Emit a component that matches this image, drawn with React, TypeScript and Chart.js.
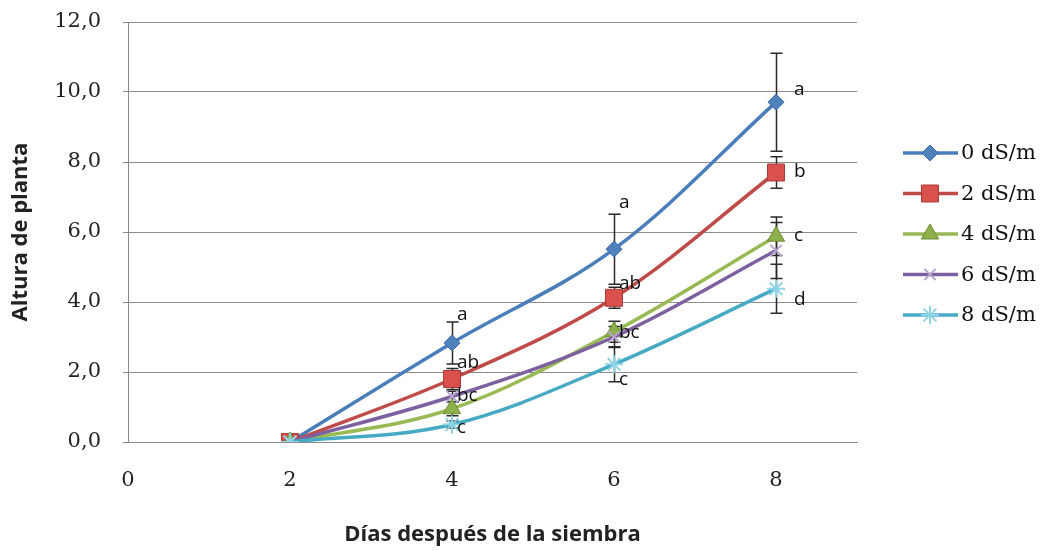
import React, { useEffect, useRef } from "react";
import { Chart, registerables } from "chart.js";

Chart.register(...registerables);

// ---- data ----
const days = [2, 4, 6, 8];
const seriesNames = ["0 dS/m", "2 dS/m", "4 dS/m", "6 dS/m", "8 dS/m"];
const s0 = [0, 2.83, 5.51, 9.71];
const s2 = [0, 1.8, 4.12, 7.7];
const s4 = [0, 0.95, 3.15, 5.88];
const s6 = [0, 1.3, 3.0, 5.47];
const s8 = [0, 0.5, 2.22, 4.38];
const e0 = [0, 0.6, 1.0, 1.4];
const e2 = [0, 0.3, 0.3, 0.45];
const e4 = [0, 0.2, 0.3, 0.55];
const e6 = [0, 0.15, 0.3, 0.8];
const e8 = [0, 0.1, 0.5, 0.7];
const xTicks = [0, 2, 4, 6, 8];
const yTicks = [0, 2, 4, 6, 8, 10, 12];
// significance letters (day, value, text)
const letterDay = [4, 4, 4, 4, 6, 6, 6, 6, 8, 8, 8, 8];
const letterVal = [3.63, 2.26, 1.34, 0.4, 6.83, 4.54, 3.14, 1.77, 10.06, 7.74, 5.89, 4.06];
const letterText = ["a", "ab", "bc", "c", "a", "ab", "bc", "c", "a", "b", "c", "d"];

const values = [s0, s2, s4, s6, s8];
const errors = [e0, e2, e4, e6, e8];

const styles = [
  { line: "#4A7EBB", style: "rectRot", radius: 8, bg: "#4F81BD", border: "#3A6AA8", bw: 1 },
  { line: "#BE4B48", style: "rect", radius: 12, bg: "#D9504C", border: "#A83A37", bw: 1 },
  { line: "#98B954", style: "triangle", radius: 10, bg: "#8DB04A", border: "#6E8C38", bw: 1 },
  { line: "#7D60A0", style: "crossRot", radius: 8, bg: "#B8A6D0", border: "#B8A6D0", bw: 2 },
  { line: "#46AAC5", style: "star", radius: 9, bg: "#8ED3E6", border: "#8ED3E6", bw: 2 },
];

const fmt = (v: number) => v.toFixed(1).replace(".", ",");

export default function App() {
  const ref = useRef<HTMLCanvasElement | null>(null);

  useEffect(() => {
    if (!ref.current) return;

    const errorBars = {
      id: "errorBars",
      beforeDatasetsDraw(chart: any) {
        const { ctx, scales } = chart;
        const xs = scales.x, ys = scales.y;
        ctx.save();
        ctx.strokeStyle = "#2a2a2a";
        ctx.lineWidth = 1.5;
        values.forEach((vals, i) => {
          vals.forEach((v, j) => {
            const e = errors[i][j];
            if (!e) return;
            const x = Math.round(xs.getPixelForValue(days[j])) + 0.5;
            const yt = ys.getPixelForValue(v + e);
            const yb = ys.getPixelForValue(v - e);
            ctx.beginPath();
            ctx.moveTo(x, yt);
            ctx.lineTo(x, yb);
            ctx.moveTo(x - 6, yt);
            ctx.lineTo(x + 6, yt);
            ctx.moveTo(x - 6, yb);
            ctx.lineTo(x + 6, yb);
            ctx.stroke();
          });
        });
        ctx.restore();
      },
    };

    const letters = {
      id: "letters",
      afterDatasetsDraw(chart: any) {
        const { ctx, scales } = chart;
        ctx.save();
        ctx.fillStyle = "#111";
        ctx.font = "19px 'Open Sans'";
        ctx.textAlign = "left";
        ctx.textBaseline = "middle";
        letterText.forEach((t, k) => {
          const x = scales.x.getPixelForValue(letterDay[k]) + (letterDay[k] === 8 ? 18 : 5);
          const y = scales.y.getPixelForValue(letterVal[k]);
          ctx.fillText(t, x, y);
        });
        ctx.restore();
      },
    };

    const legend = {
      id: "customLegend",
      afterDraw(chart: any) {
        const { ctx } = chart;
        ctx.save();
        seriesNames.forEach((name, i) => {
          const st = styles[i];
          const y = 153 + i * 40.5;
          ctx.strokeStyle = st.line;
          ctx.lineWidth = 3.5;
          ctx.beginPath();
          ctx.moveTo(903, y);
          ctx.lineTo(958, y);
          ctx.stroke();
          ctx.fillStyle = st.bg;
          ctx.strokeStyle = st.border;
          ctx.lineWidth = st.bw;
          drawMarker(ctx, st, 930, y);
          ctx.fillStyle = "#111";
          ctx.font = "21px 'DejaVu Serif'";
          ctx.textAlign = "left";
          ctx.textBaseline = "middle";
          ctx.fillText(name, 961, y + 1);
        });
        ctx.restore();
      },
    };

    const chart = new Chart(ref.current, {
      type: "line",
      data: {
        datasets: values.map((vals, i) => ({
          label: seriesNames[i],
          data: vals.map((v, j) => ({ x: days[j], y: v })),
          borderColor: styles[i].line,
          borderWidth: 3.5,
          tension: 0.35,
          pointStyle: styles[i].style as any,
          pointRadius: styles[i].radius,
          pointBackgroundColor: styles[i].bg,
          pointBorderColor: styles[i].border,
          pointBorderWidth: styles[i].bw,
          fill: false,
          order: 4 - i,
        })),
      },
      options: {
        animation: false,
        responsive: false,
        maintainAspectRatio: false,
        layout: { padding: { left: 0, top: 22, right: 187, bottom: 0 } },
        plugins: { legend: { display: false }, tooltip: { enabled: false } },
        scales: {
          x: {
            type: "linear",
            min: 0,
            max: 9,
            afterBuildTicks: (s: any) => {
              s.ticks = xTicks.map((v) => ({ value: v }));
            },
            afterFit: (s: any) => {
              s.height = 108;
              s.paddingLeft = 0;
              s.paddingRight = 0;
            },
            grid: { display: false, drawTicks: false },
            border: { display: true, color: "#8c8c8c", width: 1 },
            ticks: {
              padding: 26,
              color: "#222",
              font: { family: "'DejaVu Serif'", size: 21 },
              callback: (v: any) => String(v),
            },
            title: {
              display: true,
              text: "Días después de la siembra",
              color: "#222",
              font: { family: "'Open Sans'", size: 22, weight: "bold" },
              padding: { top: 0, bottom: 2 },
            },
          },
          y: {
            min: 0,
            max: 12,
            afterBuildTicks: (s: any) => {
              s.ticks = yTicks.map((v) => ({ value: v }));
            },
            afterFit: (s: any) => {
              s.width = 128;
              s.paddingTop = 0;
              s.paddingBottom = 0;
            },
            grid: { color: "#8c8c8c", lineWidth: 1, drawTicks: true, tickLength: 5 },
            border: { display: true, color: "#8c8c8c", width: 1 },
            ticks: {
              padding: 22,
              color: "#222",
              font: { family: "'DejaVu Serif'", size: 21 },
              callback: (v: any) => fmt(Number(v)),
            },
            title: {
              display: true,
              text: "Altura de planta",
              color: "#222",
              font: { family: "'Open Sans'", size: 22, weight: "bold" },
              padding: { top: 8, bottom: 0 },
            },
          },
        },
      },
      plugins: [errorBars, letters, legend],
    });

    return () => chart.destroy();
  }, []);

  return (
    <div style={{ position: "absolute", left: 0, top: 0, width: 1044, height: 550, background: "#fff" }}>
      <canvas ref={ref} width={1044} height={550} style={{ width: 1044, height: 550 }} />
    </div>
  );
}

function drawMarker(ctx: CanvasRenderingContext2D, st: any, x: number, y: number) {
  const r = st.radius;
  ctx.beginPath();
  if (st.style === "rectRot") {
    ctx.moveTo(x, y - r);
    ctx.lineTo(x + r, y);
    ctx.lineTo(x, y + r);
    ctx.lineTo(x - r, y);
    ctx.closePath();
    ctx.fill();
    ctx.stroke();
  } else if (st.style === "rect") {
    const s = r * Math.SQRT1_2;
    ctx.rect(x - s, y - s, 2 * s, 2 * s);
    ctx.fill();
    ctx.stroke();
  } else if (st.style === "triangle") {
    ctx.moveTo(x, y - r);
    ctx.lineTo(x + r * 0.866, y + r / 2);
    ctx.lineTo(x - r * 0.866, y + r / 2);
    ctx.closePath();
    ctx.fill();
    ctx.stroke();
  } else if (st.style === "crossRot") {
    const s = r * Math.SQRT1_2;
    ctx.moveTo(x - s, y - s);
    ctx.lineTo(x + s, y + s);
    ctx.moveTo(x + s, y - s);
    ctx.lineTo(x - s, y + s);
    ctx.stroke();
  } else if (st.style === "star") {
    const s = r * Math.SQRT1_2;
    ctx.moveTo(x - s, y - s);
    ctx.lineTo(x + s, y + s);
    ctx.moveTo(x + s, y - s);
    ctx.lineTo(x - s, y + s);
    ctx.moveTo(x, y - r);
    ctx.lineTo(x, y + r);
    ctx.moveTo(x - r, y);
    ctx.lineTo(x + r, y);
    ctx.stroke();
  }
}
